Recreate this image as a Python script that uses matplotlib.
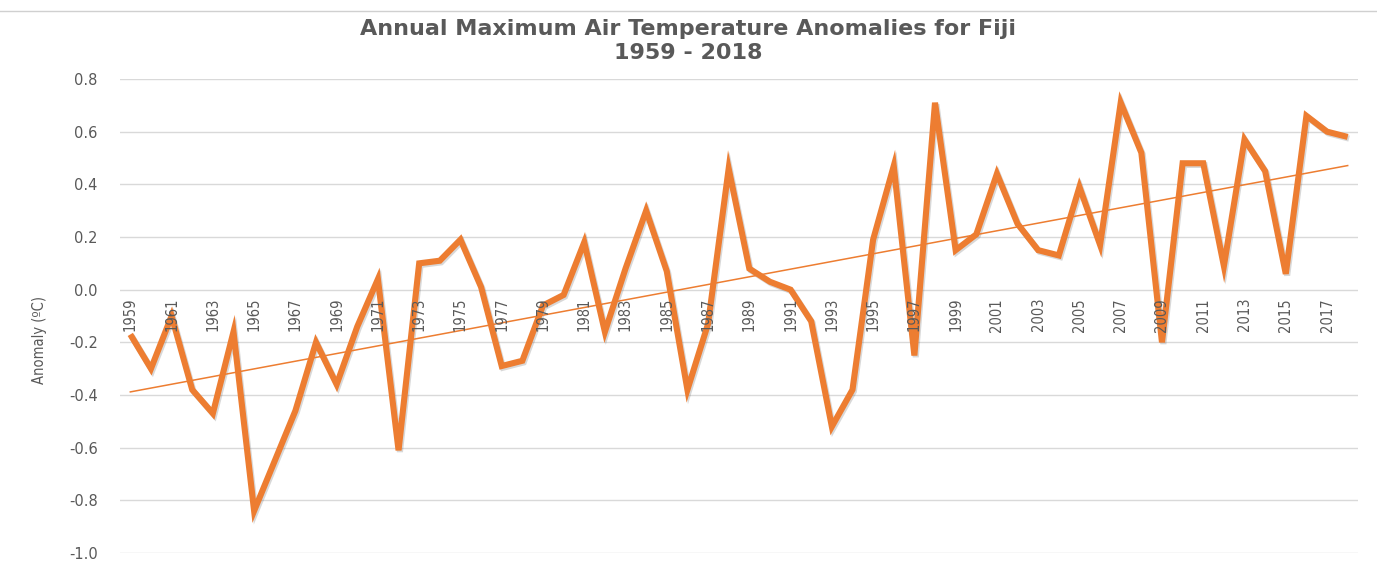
import matplotlib
matplotlib.use("Agg")
import matplotlib.pyplot as plt
import matplotlib.patheffects as pe
from matplotlib.lines import Line2D
from matplotlib import font_manager
import numpy as np

# annual max air temperature anomalies, Fiji
years = list(range(1959, 2019))
anomaly = [
    -0.17, -0.30, -0.10, -0.38, -0.47, -0.16, -0.84, -0.65, -0.46, -0.20,
    -0.36, -0.14, 0.04, -0.61, 0.10, 0.11, 0.19, 0.01, -0.29, -0.27,
    -0.06, -0.02, 0.18, -0.16, 0.08, 0.30, 0.07, -0.38, -0.13, 0.46,
    0.08, 0.03, 0.00, -0.12, -0.52, -0.38, 0.19, 0.47, -0.25, 0.71,
    0.15, 0.21, 0.44, 0.25, 0.15, 0.13, 0.39, 0.17, 0.71, 0.52,
    -0.20, 0.48, 0.48, 0.09, 0.57, 0.45, 0.06, 0.66, 0.60, 0.58,
]
ytick_values = [-1.0, -0.8, -0.6, -0.4, -0.2, 0.0, 0.2, 0.4, 0.6, 0.8]
title = "Annual Maximum Air Temperature Anomalies for Fiji\n1959 - 2018"

ORANGE = "#ED7D31"
GREY = "#595959"
narrow = font_manager.FontProperties(family="DejaVu Sans", stretch="condensed", size=10.5)

fig = plt.figure(figsize=(13.77, 5.62), dpi=100)
ax = fig.add_axes([120 / 1377, 1 - 553 / 562, 1238 / 1377, 474 / 562])

# main series with a soft shadow
ax.plot(years, anomaly, color=ORANGE, lw=4.4, solid_joinstyle="miter",
        solid_capstyle="butt", zorder=3,
        path_effects=[pe.SimpleLineShadow(offset=(1.0, -1.2), shadow_color="#505050", alpha=0.22),
                      pe.Normal()])

# linear trend
coef = np.polyfit(years, anomaly, 1)
ax.plot(years, np.polyval(coef, years), color=ORANGE, lw=1.1, zorder=4)

# category axis sits on y = 0
ax.spines["bottom"].set_position(("data", 0))
for s in ax.spines.values():
    s.set_visible(False)

ax.set_xlim(1958.5, 2018.5)
ax.set_ylim(-1.0, 0.8)
ax.set_yticks(ytick_values)
ax.set_yticklabels([f"{v:.1f}" for v in ytick_values], color=GREY, fontsize=10.5)
ax.yaxis.grid(True, color="#D9D9D9", lw=1.0)
ax.set_axisbelow(True)
ax.xaxis.set_zorder(5)  # year labels drawn over the line

ax.set_xticks(years[::2])
ax.set_xticklabels([str(y) for y in years[::2]])
ax.tick_params(axis="both", length=0)
ax.tick_params(axis="x", pad=6, labelrotation=90, labelcolor=GREY)
ax.tick_params(axis="y", pad=16)
for lab in ax.get_xticklabels():
    lab.set_fontproperties(narrow)
    lab.set_verticalalignment("top")

ax.set_ylabel("Anomaly (ºC)", color=GREY, fontproperties=narrow)
ax.yaxis.set_label_coords(-0.059, 0.45)

fig.text(0.5, 0.927, title, ha="center", va="center", fontsize=16,
         fontweight="bold", color=GREY, linespacing=1.2)

# thin rule along the top edge
fig.add_artist(Line2D([0, 1], [1 - 10.5 / 562] * 2, color="#D0D0D0", lw=1.0))

fig.savefig("out.png", dpi=100, facecolor="white")
